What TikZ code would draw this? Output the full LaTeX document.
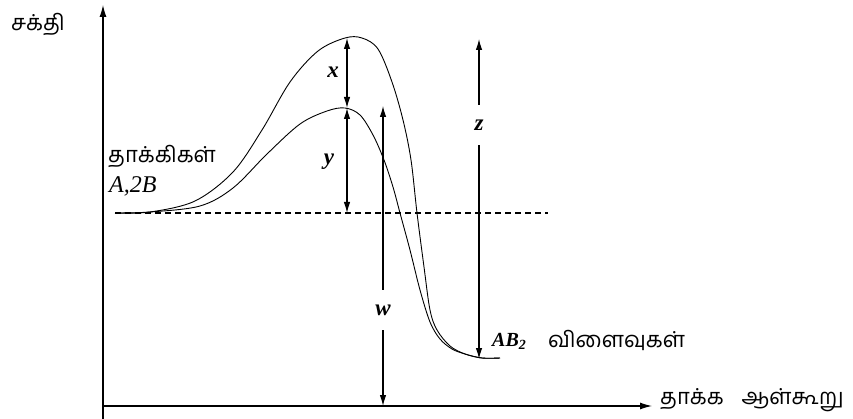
\documentclass[tikz,border=0pt]{standalone}
\usepackage{fontspec}
\setmainfont{Liberation Serif}
\newfontfamily\tamil[Script=Tamil]{Hind Madurai}
\usetikzlibrary{arrows.meta}
\begin{document}
\begin{tikzpicture}[x=1pt,y=-1pt,
  axisline/.style={line width=1.1pt,-{Latex[length=12pt,width=7pt]}},
  dimarrow/.style={line width=1.1pt,{Latex[length=11pt,width=6.5pt]}-{Latex[length=11pt,width=6.5pt]}},
  curve/.style={line width=0.9pt},
  tam/.style={font=\tamil\fontsize{22}{24}\selectfont, inner sep=0pt},
  lab/.style={font=\fontsize{23}{25}\selectfont\bfseries\itshape, inner sep=1pt},
  gaplab/.style={lab, fill=white, minimum height=40pt, minimum width=12pt}]
\useasboundingbox (0,0) rectangle (853,419);
% axes
\coordinate (o) at (103,406);
\coordinate (ytop) at (103,5);
\coordinate (ybot) at (103,419);
\coordinate (xend) at (652,406);
\draw[line width=1.1pt] (ybot) -- (o);
\draw[axisline] (o) -- (ytop);
\draw[axisline] (o) -- (xend);
% dashed reference level
\coordinate (d1) at (115,213);
\coordinate (d2) at (548,213);
\draw[line width=1.1pt, dash pattern=on 6pt off 4pt] (d1) -- (d2);
% curves
\draw[curve] plot[smooth, tension=0.55] coordinates {(115,213) (150,212) (195,201) (233,172) (262,130) (290,82) (318,51) (345,38) (362,38) (378,49) (392,82) (403,120) (411,160) (417,213) (424,267) (430,310) (437,330) (450,346) (465,354) (482,358) (500,358)};
\draw[curve] plot[smooth, tension=0.55] coordinates {(115,213) (150,212) (200,206) (233,188) (267,154) (300,124) (327,111) (345,108) (360,115) (373,135) (384,160) (393,187) (400,213) (410,250) (420,290) (430,322) (440,339) (452,349) (465,354) (482,358) (500,358)};
% dimension arrows
\coordinate (xt) at (347,38);
\coordinate (xm) at (347,108);
\coordinate (yb) at (347,213);
\draw[dimarrow] (xt) -- (xm);
\draw[dimarrow] (xm) -- (yb);
\node[lab] (xl) at (333,72) {x};
\node[lab] (yl) at (329,162) {y};
\coordinate (wt) at (383,106);
\coordinate (wb) at (383,406);
\draw[dimarrow] (wt) -- (wb);
\node[gaplab] (wl) at (383,310) {w};
\coordinate (zt) at (479,39);
\coordinate (zb) at (479,359);
\draw[dimarrow] (zt) -- (zb);
\node[gaplab] (zl) at (479,125) {z};
% texts
\node[tam, anchor=west] (sakthi) at (11,24) {சக்தி};
\node[tam, anchor=west] (reac) at (108,156) {தாக்கிகள்};
\node[anchor=west, inner sep=0pt, font=\fontsize{24}{26}\selectfont\itshape] (a2b) at (109,186) {A,2B};
\node[anchor=west, inner sep=0pt, font=\fontsize{20}{22}\selectfont\bfseries\itshape] (ab2) at (492,341) {AB\textsubscript{\normalfont\bfseries\itshape 2}};
\node[tam, anchor=west] (prod) at (548,340) {விளைவுகள்};
\node[tam, anchor=west] (coord) at (660,400) {தாக்க\hspace{18pt}ஆள்கூறு};
\end{tikzpicture}
\end{document}
